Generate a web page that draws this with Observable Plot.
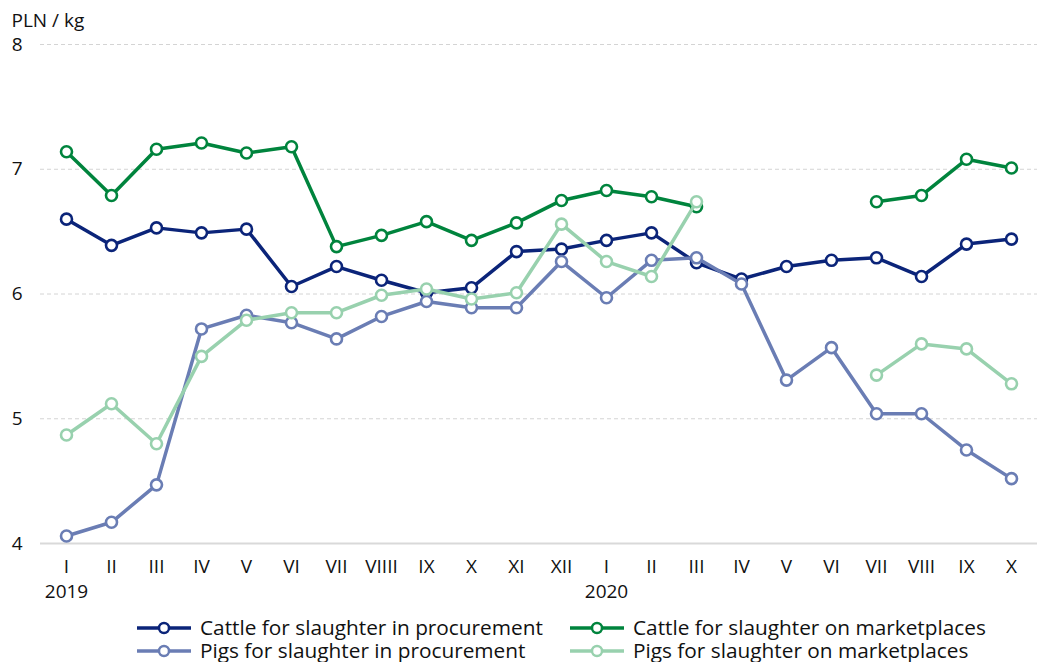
<!DOCTYPE html>
<html>
<head>
<meta charset="utf-8">
<script src="https://cdn.jsdelivr.net/npm/d3@7"></script>
<script src="https://cdn.jsdelivr.net/npm/@observablehq/plot@0.6"></script>
<style>
  body { margin: 0; background: #fff; font-family: "Open Sans", sans-serif; }
  #chart { width: 1037px; }
  .legend { display: grid; grid-template-columns: 433px 420px; margin-left: 137px; margin-top: 4px; font-size: 20.8px; line-height: 23px; color: #111; }
  .item { display: flex; align-items: center; white-space: nowrap; height: 23px; }
  .item svg { margin-right: 9px; flex: none; }
  .item span { display: block; height: 23px; line-height: 23px; }
</style>
</head>
<body>
<div id="chart"></div>
<script>
const months = ["I","II","III","IV","V","VI","VII","VIIII","IX","X","XI","XII","I","II","III","IV","V","VI","VII","VIII","IX","X"];
const years = ["2019", "2020"];
const yearIdx = [0, 12];
const yTicks = [4, 5, 6, 7, 8];
const seriesNames = [
  "Cattle for slaughter in procurement",
  "Cattle for slaughter on marketplaces",
  "Pigs for slaughter in procurement",
  "Pigs for slaughter on marketplaces"
];
const colors = ["#0b2479", "#00843d", "#6a7db4", "#98d1ae"];
const cattleProcurement = [6.60,6.39,6.53,6.49,6.52,6.06,6.22,6.11,6.01,6.05,6.34,6.36,6.43,6.49,6.25,6.12,6.22,6.27,6.29,6.14,6.40,6.44];
const cattleMarkets = [7.14,6.79,7.16,7.21,7.13,7.18,6.38,6.47,6.58,6.43,6.57,6.75,6.83,6.78,6.70,null,null,null,6.74,6.79,7.08,7.01];
const pigsProcurement = [4.06,4.17,4.47,5.72,5.83,5.77,5.64,5.82,5.94,5.89,5.89,6.26,5.97,6.27,6.29,6.08,5.31,5.57,5.04,5.04,4.75,4.52];
const pigsMarkets = [4.87,5.12,4.80,5.50,5.79,5.85,5.85,5.99,6.04,5.96,6.01,6.56,6.26,6.14,6.74,null,null,null,5.35,5.60,5.56,5.28];
const allSeries = [cattleProcurement, cattleMarkets, pigsProcurement, pigsMarkets];

const idx = months.map((_, i) => i);
const marks = [
  Plot.ruleY([5,6,7,8], {stroke: "#d4d4d4", strokeWidth: 1, strokeDasharray: "4,3"}),
  Plot.ruleY([4], {stroke: "#d9d9d9", strokeWidth: 2}),
  Plot.axisY({ticks: yTicks, tickFormat: d => String(d), tickSize: 0, tickPadding: 18, fontSize: 19, label: null}),
  Plot.axisX({tickFormat: i => months[i], tickSize: 0, tickPadding: 16, fontSize: 19, label: null}),
  Plot.axisX(yearIdx, {tickFormat: i => years[yearIdx.indexOf(i)], tickSize: 0, tickPadding: 41, fontSize: 19, label: null}),
  Plot.text(["PLN / kg"], {frameAnchor: "top-left", dx: -29, dy: -31, textAnchor: "start", fontSize: 19, fill: "#111"})
];
allSeries.forEach((vals, s) => {
  const data = vals.map((v, i) => ({i, v}));
  marks.push(Plot.line(data, {x: "i", y: "v", stroke: colors[s], strokeWidth: 3.5, curve: "linear"}));
  marks.push(Plot.dot(data.filter(d => d.v != null), {x: "i", y: "v", r: 5.5, fill: "white", stroke: colors[s], strokeWidth: 2.6}));
});

const chart = Plot.plot({
  width: 1037,
  height: 612,
  marginTop: 44,
  marginBottom: 69,
  marginLeft: 40,
  marginRight: 0,
  style: {fontFamily: "'Open Sans', sans-serif", color: "#111", background: "white"},
  x: {type: "point", domain: idx, padding: 0.5},
  y: {domain: [4, 8]},
  marks
});
document.getElementById("chart").appendChild(chart);

const legend = document.createElement("div");
legend.className = "legend";
[0, 1, 2, 3].forEach(s => {
  const item = document.createElement("div");
  item.className = "item";
  item.innerHTML = `<svg width="54" height="14"><line x1="0" x2="54" y1="7" y2="7" stroke="${colors[s]}" stroke-width="3.5"/><circle cx="27" cy="7" r="5" fill="white" stroke="${colors[s]}" stroke-width="2.5"/></svg><span>${seriesNames[s]}</span>`;
  legend.appendChild(item);
});
document.getElementById("chart").appendChild(legend);
</script>
</body>
</html>
